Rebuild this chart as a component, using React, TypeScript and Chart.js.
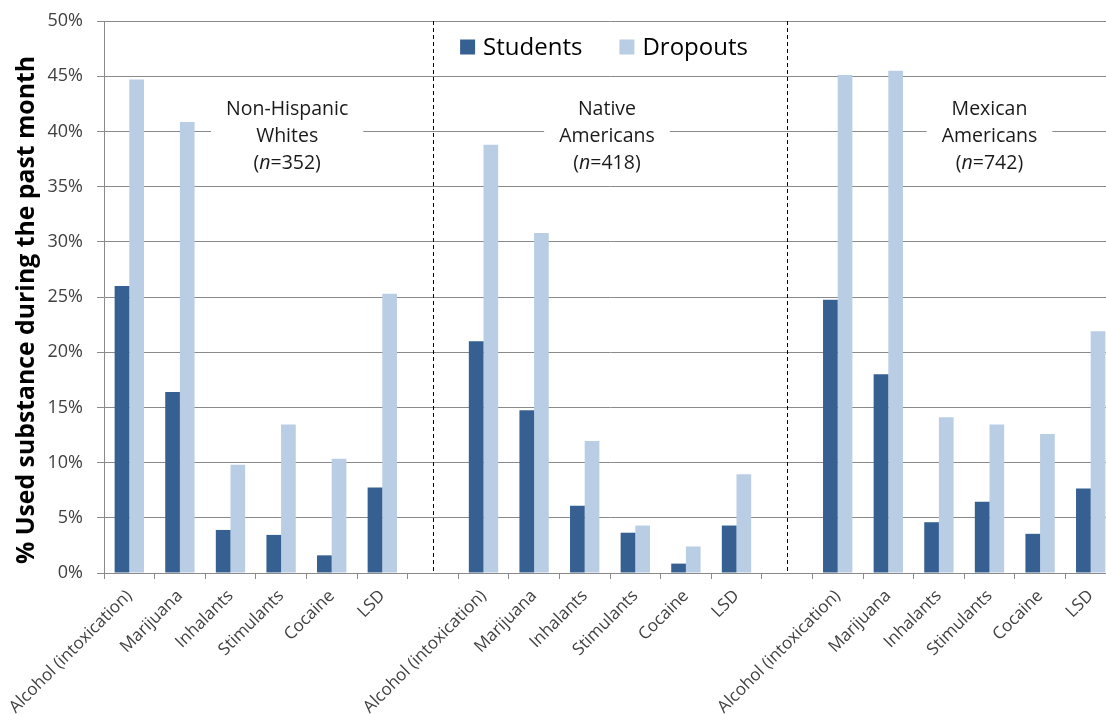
import React, { useEffect, useRef } from "react";
import { Chart, registerables } from "chart.js";

Chart.register(...registerables);

const substances = ["Alcohol (intoxication)", "Marijuana", "Inhalants", "Stimulants", "Cocaine", "LSD"];
const categories = [...substances, "", ...substances, "", ...substances];

const students = [26.0, 16.4, 3.9, 3.45, 1.6, 7.75, null, 21.0, 14.75, 6.1, 3.65, 0.85, 4.3, null, 24.75, 18.0, 4.6, 6.45, 3.55, 7.65];
const dropouts = [44.7, 40.85, 9.8, 13.45, 10.35, 25.3, null, 38.8, 30.8, 11.95, 4.3, 2.4, 8.95, null, 45.1, 45.5, 14.1, 13.45, 12.6, 21.9];

const seriesNames = ["Students", "Dropouts"];
const seriesColors = ["#376092", "#B9CDE5"];

const yTickValues = [0, 5, 10, 15, 20, 25, 30, 35, 40, 45, 50];
const yTitle = "% Used substance during the past month";

const groupLines = [
  ["Non-Hispanic", "Whites"],
  ["Native", "Americans"],
  ["Mexican", "Americans"],
];
const groupN = ["352", "418", "742"];
const groupCenters = [3.12, 9.44, 17.0];
const separators = [6, 13];

const FONT = "'Open Sans', sans-serif";
const GRID = "#8a8a8a";
const TEXT = "#404040";

export default function App() {
  const ref = useRef<HTMLCanvasElement>(null);

  useEffect(() => {
    const canvas = ref.current!;
    const overlay = {
      id: "overlay",
      afterDraw(chart: any) {
        const { ctx, chartArea: ca } = chart;
        const x = chart.scales.x;
        const y = chart.scales.y;
        ctx.save();

        // dashed separators
        ctx.strokeStyle = "#000";
        ctx.lineWidth = 1;
        ctx.setLineDash([4, 3]);
        separators.forEach((i) => {
          const px = Math.round(x.getPixelForValue(i)) + 0.5;
          ctx.beginPath();
          ctx.moveTo(px, ca.top);
          ctx.lineTo(px, ca.bottom);
          ctx.stroke();
        });
        ctx.setLineDash([]);

        // legend
        ctx.font = `24px ${FONT}`;
        ctx.textBaseline = "alphabetic";
        ctx.textAlign = "left";
        const w0 = ctx.measureText(seriesNames[0]).width;
        const w1 = ctx.measureText(seriesNames[1]).width;
        const sq = 15, gap = 8, between = 37;
        const total = sq + gap + w0 + between + sq + gap + w1;
        const mid = (x.getPixelForValue(separators[0]) + x.getPixelForValue(separators[1])) / 2 - 6;
        let lx = mid - total / 2;
        const legendBase = 55;
        [0, 1].forEach((k) => {
          ctx.fillStyle = seriesColors[k];
          ctx.fillRect(lx, legendBase - 15.5, sq, sq);
          lx += sq + gap;
          ctx.fillStyle = "#000";
          ctx.fillText(seriesNames[k], lx, legendBase);
          lx += (k === 0 ? w0 : w1) + between;
        });

        // group labels
        const gy = y.getPixelForValue(40);
        const base2 = gy + 10.5;
        const lineGap = 27;
        groupLines.forEach((lines, k) => {
          const cx = x.getPixelForValue(groupCenters[k]);
          ctx.font = `19.5px ${FONT}`;
          const wa = ctx.measureText(lines[0]).width;
          const wb = ctx.measureText(lines[1]).width;
          const bw = Math.max(wa, wb) + 30;
          ctx.fillStyle = "#fff";
          ctx.fillRect(cx - bw / 2, base2 - lineGap - 18, bw, lineGap * 2 + 30);
          ctx.fillStyle = "#1a1a1a";
          ctx.textAlign = "center";
          ctx.fillText(lines[0], cx, base2 - lineGap);
          ctx.fillText(lines[1], cx, base2);
          // (n=xxx)
          const pA = "(";
          const pB = "n";
          const pC = "=" + groupN[k] + ")";
          ctx.font = `19.5px ${FONT}`;
          const wA = ctx.measureText(pA).width;
          const wC = ctx.measureText(pC).width;
          ctx.font = `italic 19.5px ${FONT}`;
          const wB = ctx.measureText(pB).width;
          let tx = cx - (wA + wB + wC) / 2;
          ctx.textAlign = "left";
          ctx.font = `19.5px ${FONT}`;
          ctx.fillText(pA, tx, base2 + lineGap);
          tx += wA;
          ctx.font = `italic 19.5px ${FONT}`;
          ctx.fillText(pB, tx, base2 + lineGap);
          tx += wB;
          ctx.font = `19.5px ${FONT}`;
          ctx.fillText(pC, tx, base2 + lineGap);
        });

        // y axis title
        ctx.translate(33.5, 310);
        ctx.rotate(-Math.PI / 2);
        ctx.font = `bold 24.8px ${FONT}`;
        ctx.textAlign = "center";
        ctx.textBaseline = "alphabetic";
        ctx.fillStyle = "#000";
        ctx.fillText(yTitle, 0, 0);

        ctx.restore();
      },
    };

    const chart = new Chart(canvas, {
      type: "bar",
      data: {
        labels: categories,
        datasets: [
          { label: seriesNames[0], data: students, backgroundColor: seriesColors[0], categoryPercentage: 0.58, barPercentage: 1 },
          { label: seriesNames[1], data: dropouts, backgroundColor: seriesColors[1], categoryPercentage: 0.58, barPercentage: 1 },
        ],
      },
      options: {
        responsive: false,
        maintainAspectRatio: false,
        animation: false,
        layout: { padding: { top: 21, right: 4, left: 0, bottom: 0 } },
        plugins: {
          legend: { display: false },
          tooltip: { enabled: false },
        },
        scales: {
          x: {
            offset: true,
            grid: { offset: true, drawOnChartArea: false, drawTicks: true, tickLength: 6, color: GRID, lineWidth: 1 },
            border: { color: GRID },
            ticks: {
              autoSkip: false,
              minRotation: 45,
              maxRotation: 45,
              color: TEXT,
              font: { family: FONT, size: 17 },
              padding: 7,
            },
            afterFit: (s: any) => {
              s.height = 142;
            },
          },
          y: {
            min: 0,
            max: 50,
            afterBuildTicks: (s: any) => {
              s.ticks = yTickValues.map((v) => ({ value: v }));
            },
            ticks: {
              callback: (v: any) => v + "%",
              color: TEXT,
              font: { family: FONT, size: 18, lineHeight: 0.5 },
              padding: 14,
            },
            grid: { color: GRID, tickLength: 7, lineWidth: 1 },
            border: { color: GRID },
            afterFit: (s: any) => {
              s.width = 104;
            },
          },
        },
      },
      plugins: [overlay],
    });
    return () => chart.destroy();
  }, []);

  return (
    <div style={{ position: "fixed", left: 0, top: 0, width: 1106, height: 715, overflow: "hidden", background: "#fff" }}>
      <canvas ref={ref} width={1120} height={715} style={{ display: "block" }} />
    </div>
  );
}
